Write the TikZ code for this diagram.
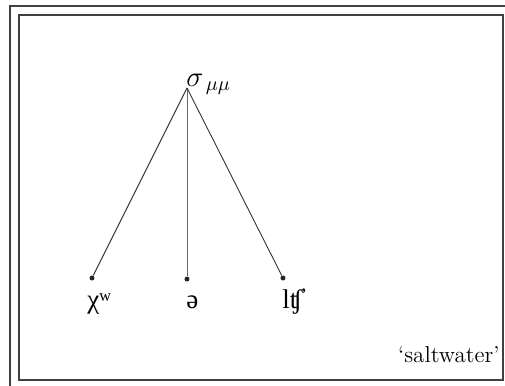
\documentclass[tikz,border=0pt]{standalone}
\usepackage{fontspec}
\newfontfamily\ipafont{Liberation Serif}
\usetikzlibrary{positioning}

\tikzset{
  leaf/.style={circle,fill=black!85,inner sep=0pt,minimum size=2.5pt},
  branch/.style={black!80,line width=0.45pt},
  ipalab/.style={anchor=base west,inner sep=0pt,font=\ipafont\fontsize{13.5}{16}\selectfont},
  frame/.style={black!75,line width=0.6pt}
}

\begin{document}
\begin{tikzpicture}[x=0.5pt,y=-0.5pt]
    \useasboundingbox (0,0) rectangle (505,386);
    \clip (0,0) rectangle (505,386);

    % double frame
    \draw[frame] (10,392) -- (10,6) -- (512,6);
    \draw[frame] (19,15) rectangle (503,380);

    % tree
    \coordinate (root) at (187,88);
    \node[anchor=base west,inner sep=0pt,font=\Large] (rootlab) at (186,86) {$\sigma_{\,\mu\mu}$};
    \node[leaf] (chi) at (92,278) {};
    \node[leaf] (schwa) at (187,279) {};
    \node[leaf] (tsh) at (283,278) {};

    \draw[branch] (root) -- (chi);
    \draw[branch,black!60,line width=0.35pt] (root) -- (schwa);
    \draw[branch] (root) -- (tsh);

    % segment labels
    \node[ipalab] (chilab) at (87,308) {χʷ};
    \node[ipalab] (schwalab) at (186,308) {ə};
    \node[ipalab] (tshlab) at (282,308) {lʧ̕};

    \node[anchor=base east,inner sep=0pt,font=\fontsize{11.5}{13}\selectfont] (gloss) at (500,362) {`saltwater'};
\end{tikzpicture}
\end{document}
